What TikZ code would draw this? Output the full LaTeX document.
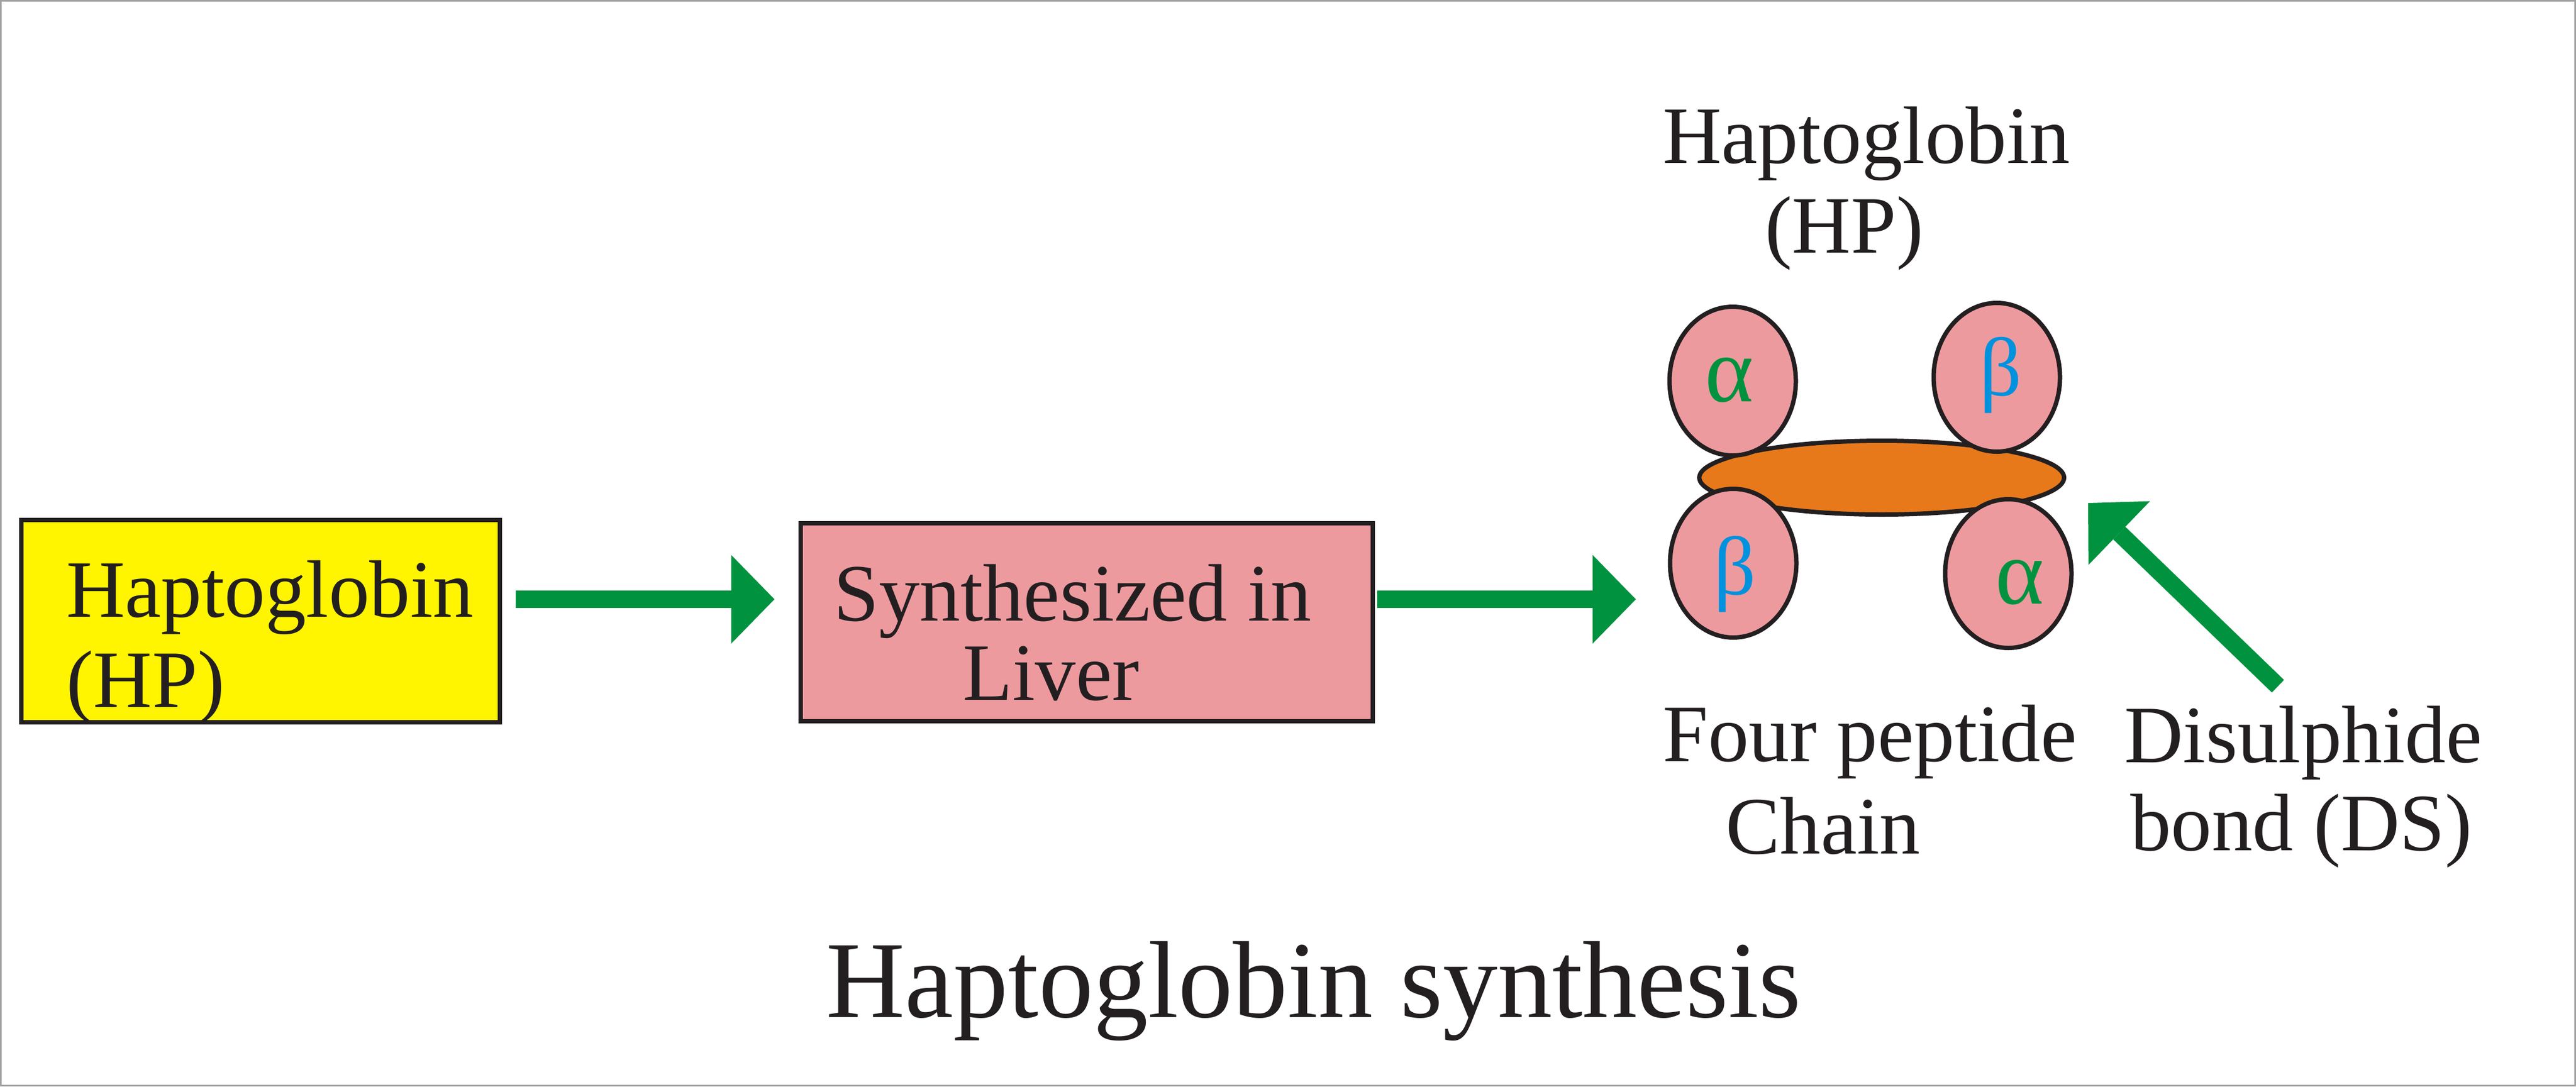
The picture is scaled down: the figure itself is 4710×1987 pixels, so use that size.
\documentclass[tikz,border=0pt]{standalone}
\usepackage{fontspec}
\setmainfont{Liberation Serif}
\usetikzlibrary{shapes.geometric,arrows.meta,calc}
\definecolor{hpyellow}{RGB}{255,245,0}
\definecolor{hppink}{RGB}{237,154,159}
\definecolor{hporange}{RGB}{231,121,27}
\definecolor{hpgreen}{RGB}{0,146,63}
\definecolor{hpblue}{RGB}{0,146,221}
\definecolor{hptext}{RGB}{35,31,32}
\definecolor{hpframe}{RGB}{160,160,160}
\begin{document}
\begin{tikzpicture}[x=1pt,y=-1pt,
  lbl/.style={anchor=base west, inner sep=0pt, text=hptext, font=\fontsize{149}{164}\selectfont},
  ttl/.style={anchor=base west, inner sep=0pt, text=hptext, font=\fontsize{200}{220}\selectfont},
  stagebox/.style={draw=hptext, line width=8pt, rectangle, inner sep=0pt},
  chainball/.style={ellipse, draw=hptext, line width=8pt, fill=hppink, inner sep=0pt, minimum width=231pt, minimum height=272pt},
  bondoval/.style={ellipse, draw=hptext, line width=8pt, fill=hporange, inner sep=0pt, minimum width=667pt, minimum height=135pt},
  greekA/.style={inner sep=0pt, anchor=center, text=hpgreen, font=\fontsize{170}{170}\selectfont},
  greekB/.style={inner sep=0pt, anchor=center, text=hpblue, font=\fontsize{152}{152}\selectfont},
  greenarrow/.style={draw=hpgreen, line width=32pt, -{Triangle[length=79pt,width=162pt,line width=0pt]}},
]
\useasboundingbox (0,0) rectangle (4710,1987);
\fill[white] (0,0) rectangle (4710,1987);
\draw[hpframe, line width=3pt] (1.5,1.5) rectangle (4708.5,1985.5);

% boxes
\node[stagebox, fill=hpyellow, minimum width=875pt, minimum height=370pt] (hp) at (476.5,1136) {};
\node[stagebox, fill=hppink, minimum width=1046pt, minimum height=362pt] (liver) at (1987,1138) {};

\node[lbl] (hp1) at (121,1128) {Haptoglobin};
\node[lbl] (hp2) at (121,1293) {(HP)};
\node[lbl] (lv1) at (1524,1135) {Synthesized in};
\node[lbl] (lv2) at (1760,1280) {Liver};

% molecule
\node[bondoval] (ds) at (3440.5,873.5) {};
\node[chainball] (tl) at (3168,697) {};
\node[chainball] (tr) at (3651,690) {};
\node[chainball] (bl) at (3169,1030) {};
\node[chainball] (br) at (3672,1049) {};
\node[greekA] (gtl) at (3162,695) {α};
\node[greekB] (gtr) at (3658,686) {β};
\node[greekB] (gbl) at (3172,1050) {β};
\node[greekA] (gbr) at (3693,1065) {α};

% labels
\node[lbl] (t1) at (3040,298) {Haptoglobin};
\node[lbl] (t2) at (3227,462) {(HP)};
\node[lbl] (fp1) at (3040,1392) {Four peptide};
\node[lbl] (fp2) at (3155,1561) {Chain};
\node[lbl] (db1) at (3884,1394) {Disulphide};
\node[lbl] (db2) at (3895,1555) {bond (DS)};
\node[ttl] (title) at (1510,1860) {Haptoglobin synthesis};

% arrows
\draw[greenarrow] ([shift={(25,-40)}]hp.east) -- ([shift={(-44,-42)}]liver.west);
\coordinate (a2t) at (2991,1096);
\draw[greenarrow] ([shift={(4,-42)}]liver.east) -- (a2t);
\coordinate (dstail) at (4165,1255);
\coordinate (dstip) at (3818,920);
\draw[greenarrow] (dstail) -- (dstip);
\end{tikzpicture}
\end{document}
